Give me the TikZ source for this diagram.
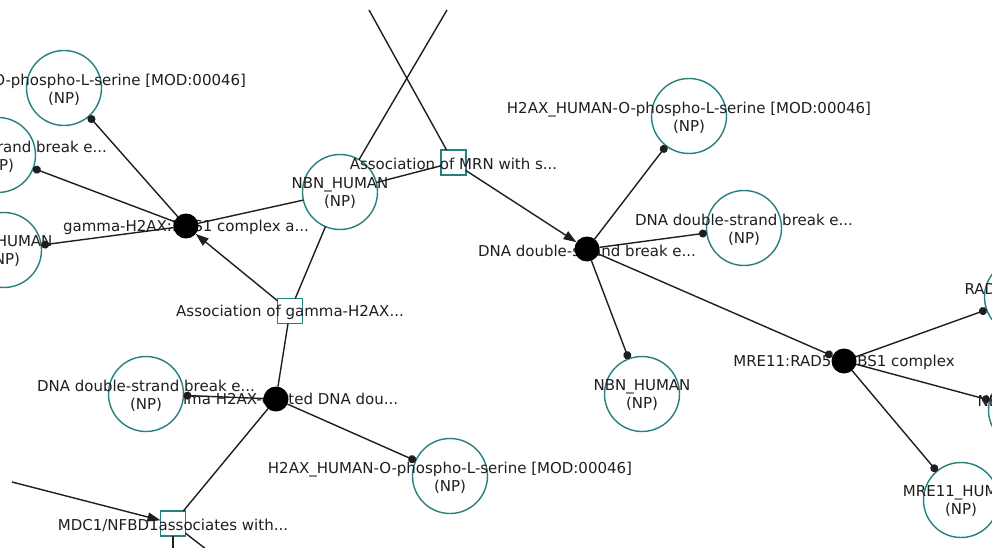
\documentclass[tikz,border=0pt]{standalone}
\usepackage{fontspec}
\setmainfont{DejaVu Sans}
\usetikzlibrary{arrows.meta}
\definecolor{teal0}{RGB}{38,128,128}
\definecolor{ink}{RGB}{30,30,30}
\begin{document}
\begin{tikzpicture}[x=1pt,y=-1pt,
  every node/.style={inner sep=0pt, outer sep=0pt},
  ent/.style={circle, draw=teal0, line width=1.4pt, fill=white, minimum size=75pt},
  rxn/.style={rectangle, draw=teal0, line width=1.4pt, fill=white, minimum size=25pt},
  cplx/.style={circle, fill=black, minimum size=25pt},
  lbl/.style={text=ink, font=\fontsize{15}{18}\selectfont, align=center, yshift=-1.5pt},
  link/.style={draw=ink, line width=1.4pt},
  memb/.style={link, -{Circle[length=8pt]}},
  prod/.style={link, -{Triangle[length=13pt,width=9pt]}},
]
\useasboundingbox (0,0) rectangle (992,548);
\clip (0,0) rectangle (992,548);

% complex labels (partly hidden by the entities drawn later)
\node[lbl] (k1t) at (186,226) {gamma-H2AX:NBS1 complex a...};
\node[lbl] (k2t) at (587,249) {DNA double-strand break e...};
\node[lbl] (k3t) at (844,361) {MRE11:RAD50:NBS1 complex};
\node[lbl] (k4t) at (276,399) {gamma H2AX-coated DNA dou...};

% physical entities
\node[ent] (c1)  at (64,88)   {};
\node[ent] (c2)  at (-2,155)  {};
\node[ent] (c3)  at (4,250)   {};
\node[ent] (c4)  at (340,192) {};
\node[ent] (c5)  at (689,116) {};
\node[ent] (c6)  at (744,228) {};
\node[ent] (c7)  at (642,394) {};
\node[ent] (c8)  at (1022,297) {};
\node[ent] (c9)  at (1026,410) {};
\node[ent] (c10) at (961,500) {};
\node[ent] (c11) at (146,394) {};
\node[ent] (c12) at (450,476) {};

\node[lbl] at (c1)  {H2AX\_HUMAN-O-phospho-L-serine [MOD:00046]\\(NP)};
\node[lbl] at (c2)  {DNA double-strand break e...\\(NP)};
\node[lbl] at (c3)  {NBN\_HUMAN\\(NP)};
\node[lbl] at (c4)  {NBN\_HUMAN\\(NP)};
\node[lbl] at (c5)  {H2AX\_HUMAN-O-phospho-L-serine [MOD:00046]\\(NP)};
\node[lbl] at (c6)  {DNA double-strand break e...\\(NP)};
\node[lbl] at (c7)  {NBN\_HUMAN\\(NP)};
\node[lbl] at (c8)  {RAD50\_HUMAN\\(NP)};
\node[lbl] at (c9)  {NBN\_HUMAN\\(NP)};
\node[lbl] at (c10) {MRE11\_HUMAN\\(NP)};
\node[lbl] at (c11) {DNA double-strand break e...\\(NP)};
\node[lbl] at (c12) {H2AX\_HUMAN-O-phospho-L-serine [MOD:00046]\\(NP)};

% reactions
\node[rxn] (r1) at (453.5,162.5) {};
\node[rxn] (r2) at (290,311)     {};
\node[rxn] (r3) at (173,523.5)   {};
\node[lbl] at (r1) {Association of MRN with s...};
\node[lbl] at (r2) {Association of gamma-H2AX...};
\node[lbl] at (r3) {MDC1/NFBD1associates with...};

% complexes
\node[cplx] (k1) at (186,226) {};
\node[cplx] (k2) at (587,249) {};
\node[cplx] (k3) at (844,361) {};
\node[cplx] (k4) at (276,399) {};

% loose ends running off the view
\coordinate (topA) at (369,10);
\coordinate (topB) at (447,10);
\coordinate (leftA) at (12,482);
\coordinate (botA) at (173,560);
\coordinate (botB) at (220,560);

% connectors
\draw[link] (topA) -- (r1);
\draw[link] (topB) -- (c4);
\draw[link] (r1) -- (c4);
\draw[prod] (r1) -- (k2);
\draw[link] (k1) -- (c4);
\draw[link] (c4) -- (r2);
\draw[prod] (r2) -- (k1);
\draw[link] (k4) -- (r2);
\draw[link] (k4) -- (r3);
\draw[prod] (leftA) -- (r3);
\draw[link] (r3) -- (botA);
\draw[link] (r3) -- (botB);

\draw[memb] (k1) -- (c1);
\draw[memb] (k1) -- (c2);
\draw[memb] (k1) -- (c3);
\draw[memb] (k2) -- (c5);
\draw[memb] (k2) -- (c6);
\draw[memb] (k2) -- (c7);
\draw[memb] (k2) -- (k3);
\draw[memb] (k3) -- (c8);
\draw[memb] (k3) -- (c9);
\draw[memb] (k3) -- (c10);
\draw[memb] (k4) -- (c11);
\draw[memb] (k4) -- (c12);
\end{tikzpicture}
\end{document}
